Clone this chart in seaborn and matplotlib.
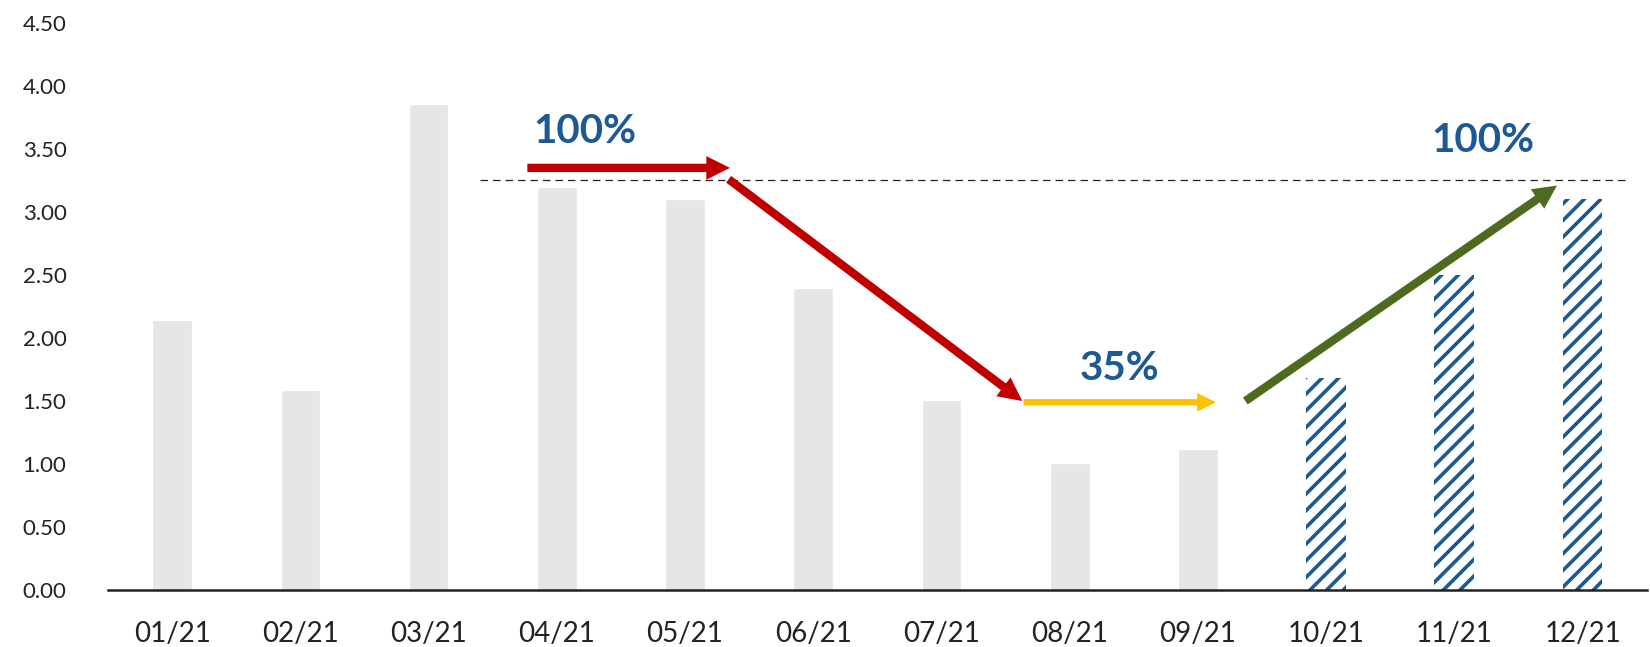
import matplotlib
matplotlib.use("Agg")
import matplotlib.pyplot as plt
import seaborn as sns
import pandas as pd

# Monthly values
months = ["01/21", "02/21", "03/21", "04/21", "05/21", "06/21",
          "07/21", "08/21", "09/21", "10/21", "11/21", "12/21"]
values = [2.14, 1.59, 3.86, 3.20, 3.10, 2.40, 1.51, 1.01, 1.12, 1.68, 2.50, 3.10]
forecast_months = ["10/21", "11/21", "12/21"]

# Reference level and trend annotations
ref_level = 3.25
pct_labels = ["100%", "35%", "100%"]
pct_pos = [(3.22, 3.64), (7.39, 1.76), (10.22, 3.57)]

sns.set_theme(style="white")
plt.rcParams["font.family"] = ["Lato", "DejaVu Sans"]
plt.rcParams["hatch.linewidth"] = 2.6

df = pd.DataFrame({"month": months, "value": values})

fig = plt.figure(figsize=(16.5, 6.47), dpi=100)
ax = fig.add_axes([0.0655, 0.088, 0.9325, 0.8765])

sns.barplot(data=df, x="month", y="value", color="#e6e6e6", width=0.31,
            saturation=1, ax=ax)

blue = "#1d5a94"
for patch, m in zip(ax.patches, months):
    if m in forecast_months:
        patch.set_facecolor("white")
        patch.set_edgecolor(blue)
        patch.set_hatch("//")
        patch.set_linewidth(0)

ax.set_xlim(-0.5, 11.5)
ax.set_ylim(0, 4.5)
ax.set_yticks([i * 0.5 for i in range(10)])
ax.set_yticklabels([f"{i * 0.5:.2f}" for i in range(10)])
ax.set_xlabel("")
ax.set_ylabel("")
ax.tick_params(axis="both", colors="#222222", length=0)
ax.tick_params(axis="y", pad=30, labelsize=16)
ax.tick_params(axis="x", pad=22, labelsize=20)
for s in ["top", "right", "left"]:
    ax.spines[s].set_visible(False)
ax.spines["bottom"].set_color("#222222")
ax.spines["bottom"].set_linewidth(1.8)

# Dashed reference line
ax.plot([2.40, 11.35], [ref_level, ref_level], ls=(0, (6, 4)), lw=0.9,
        color="#222222", zorder=3)

# Trend arrows (filled shapes so the heads keep their size)
def arrow(x0, y0, x1, y1, color, tail=0.6, head=1.7):
    style = f"simple,tail_width={tail},head_width={head},head_length={head}"
    ax.annotate("", xy=(x1, y1), xytext=(x0, y0),
                arrowprops=dict(arrowstyle=style, fc=color, ec="none", lw=0,
                                shrinkA=0, shrinkB=0, mutation_scale=10),
                zorder=5)

arrow(2.77, 3.35, 4.35, 3.35, "#c00000")
arrow(4.34, 3.26, 6.63, 1.50, "#c00000")
arrow(6.64, 1.49, 8.14, 1.49, "#ffc000", tail=0.46, head=1.35)
arrow(8.37, 1.50, 10.80, 3.21, "#4e6a1f")

for txt, (x, y) in zip(pct_labels, pct_pos):
    ax.text(x, y, txt, ha="center", va="center", fontsize=29,
            fontweight="bold", color=blue, zorder=6)

fig.savefig("out.png", dpi=100)
